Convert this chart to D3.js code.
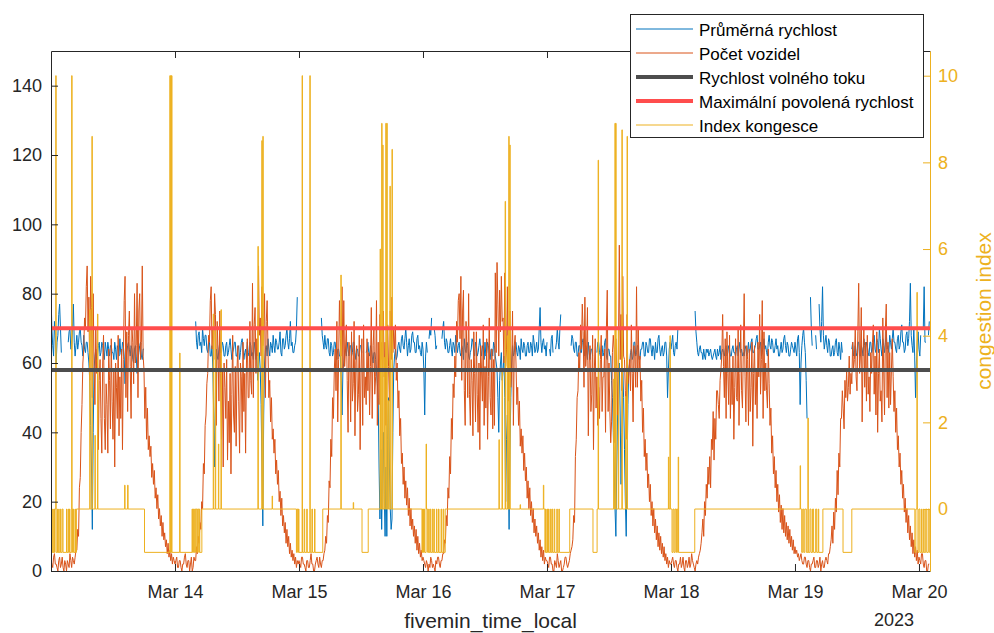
<!DOCTYPE html>
<html>
<head>
<meta charset="utf-8">
<script src="https://cdn.jsdelivr.net/npm/d3@7"></script>
<style>
  body { margin: 0; background: #fff; }
  svg text { font-family: "Liberation Sans", Arial, Helvetica, sans-serif; }
</style>
</head>
<body>
<svg id="chart" width="994" height="633"></svg>
<script>
// ---- data: 10-minute samples, one array per day (6 values per hour) ----
const dayStarts = ["2023-03-13", "2023-03-14", "2023-03-15", "2023-03-16",
                   "2023-03-17", "2023-03-18", "2023-03-19", "2023-03-20"];

// Počet vozidel (vehicle count)
const count13 = [
  3,2,1,4,5,2, 2,1,0,3,4,1, 2,4,1,0,3,2, 0,3,2,1,5,3,
  1,4,3,2,4,6, 6,12,10,24,27,40, 48,60,64,73,70,82, 88,69,79,55,85,76,
  50,80,59,48,70,57, 65,35,55,61,44,34, 60,68,44,35,54,48, 34,64,55,41,67,49,
  38,58,30,60,53,44, 68,39,56,44,64,35, 61,78,85,50,69,46, 68,75,59,44,70,66,
  54,80,60,65,83,50, 75,80,61,66,88,62, 58,44,53,38,47,35, 39,33,36,27,31,25,
  29,21,24,18,22,15, 18,13,16,10,14,9, 11,7,9,5,8,4, 6,3,5,2,4,3];
const count14 = [
  2,3,4,1,1,3, 3,1,0,2,2,4, 5,2,1,3,3,0, 2,4,0,1,4,3,
  3,7,5,10,8,14, 12,20,18,31,28,42, 45,54,57,68,66,78, 82,64,70,61,80,74,
  42,72,63,49,75,57, 38,58,30,60,53,44, 61,32,49,37,57,28, 51,68,45,40,59,36,
  58,65,49,34,60,56, 40,66,46,57,34,60, 67,50,50,72,55,51, 83,50,71,76,57,67,
  62,88,68,73,62,82, 65,71,80,50,72,78, 64,50,55,43,50,38, 41,34,38,28,32,25,
  29,20,23,16,21,13, 16,11,14,8,12,7, 10,5,8,4,6,3, 5,2,4,1,3,2];
const count15 = [
  3,2,1,4,4,2, 2,1,0,3,3,1, 1,3,5,2,2,0, 0,2,3,4,2,1,
  4,2,1,3,3,5, 6,10,8,16,14,26, 24,38,33,50,44,58, 64,52,72,43,61,78,
  67,62,82,58,78,59, 64,71,55,40,66,62, 43,69,49,54,72,39, 60,65,46,51,68,35,
  58,67,42,71,50,56, 48,67,52,63,45,59, 76,44,65,70,51,56, 78,42,66,48,74,61,
  66,58,75,56,66,42, 60,71,59,49,75,61, 79,63,70,64,71,55, 60,47,52,39,44,31,
  34,25,30,21,26,19, 24,16,21,13,18,12, 15,10,13,8,12,6, 10,5,8,4,6,3];
const count16 = [
  4,3,2,1,3,2, 0,2,1,4,3,1, 2,1,0,3,2,4, 4,2,1,3,3,5,
  5,9,8,16,13,24, 21,33,28,44,38,54, 50,62,56,72,66,78, 80,67,85,55,75,81,
  52,42,72,64,50,80, 51,42,61,55,39,69, 57,43,69,51,40,60, 35,65,58,49,71,42,
  59,47,67,38,56,73, 50,45,64,41,61,42, 86,63,89,77,62,81, 69,85,72,73,60,86,
  59,64,82,49,70,75, 53,58,75,42,65,68, 60,48,53,42,49,36, 41,34,39,29,34,26,
  30,21,26,18,24,16, 20,14,18,11,15,10, 13,8,11,6,9,4, 7,3,6,2,4,3];
const count17 = [
  3,2,1,4,4,2, 2,0,0,3,2,1, 5,3,1,2,3,0, 0,1,2,4,4,2,
  1,2,3,5,6,7, 9,16,14,33,38,50, 52,63,58,71,64,77, 69,53,79,59,64,76,
  39,60,65,46,51,68, 35,58,67,47,56,42, 53,44,61,68,46,56, 56,64,40,70,81,46,
  60,46,37,43,63,68, 64,37,67,59,45,65, 94,61,74,52,85,62, 61,52,38,74,54,57,
  61,52,71,57,43,65, 62,53,82,53,70,58, 62,49,55,40,47,33, 38,29,34,24,28,20,
  25,16,20,13,18,11, 15,9,13,7,11,6, 10,5,8,4,7,3, 5,2,4,1,3,2];
const count18 = [
  2,3,4,2,1,3, 3,1,0,2,2,4, 1,2,4,1,0,3, 3,1,2,4,1,2,
  5,3,2,1,0,2, 3,2,4,5,6,8, 11,15,10,20,16,25, 21,30,25,33,24,38,
  35,46,32,44,38,52, 52,48,44,55,58,62, 74,59,50,67,44,69, 57,48,68,44,58,48,
  62,38,53,67,50,49, 70,42,57,71,52,47, 64,80,56,43,65,61, 42,64,46,53,66,36,
  57,65,48,58,44,66, 56,74,51,61,78,44, 69,52,60,52,47,64, 54,42,47,34,39,28,
  33,24,29,20,25,17, 22,14,19,12,18,11, 16,10,14,9,13,8, 12,7,10,6,9,5];
const count19 = [
  7,5,6,4,5,3, 4,5,3,2,2,4, 4,2,1,3,3,1, 0,2,2,3,4,1,
  1,3,3,1,2,4, 0,2,3,1,1,3, 4,3,2,5,5,7, 9,13,8,17,12,21,
  17,29,22,34,30,44, 44,52,47,41,55,50, 58,49,53,62,51,57, 54,66,58,61,70,56,
  52,69,83,57,62,76, 43,62,70,53,66,49, 68,51,56,46,63,57, 66,71,51,62,45,69,
  40,57,64,49,52,43, 73,58,45,70,77,50, 66,47,63,48,58,67, 56,46,52,40,47,35,
  39,30,34,25,29,21, 25,17,21,14,18,11, 16,9,13,7,11,5, 9,4,7,3,6,2];
const count20 = [4,3,2,5,5,2, 1,3,3,0,0,2, 2];

// Průměrná rychlost (average speed, km/h); null = no measurement
const speed13 = [
  80,70,65,62,72,68, 60,66,68,74,77,70, 63,null,null,null,null,null, null,null,66,69,70,64,
  64,70,77,66,62,65, 68,64,66,69,70,66, 65,62,68,64,63,66, 66,63,60,55,42,30,
  12,40,58,62,64,61, 62,65,66,62,63,66, 65,63,61,66,64,62, 66,64,62,65,65,63,
  63,61,66,64,61,65, 64,62,67,63,62,66, 65,62,54,60,63,65, 66,64,62,65,64,61,
  60,64,65,62,57,61, 63,65,66,62,61,64, 64,null,null,null,null,null, null,null,null,null,null,null,
  null,null,null,null,null,null, null,null,null,null,null,null, null,null,null,null,null,null, null,null,null,null,null,null];
const speed14 = [
  null,null,null,null,null,null, null,null,null,null,null,null, null,null,null,null,null,null, null,null,67,null,null,null,
  72,66,64,68,69,65, 66,63,70,67,65,68, 68,64,63,66,66,62, 62,65,58,44,30,52,
  64,62,61,64,66,63, 63,66,65,62,62,65, 66,62,63,65,67,64, 61,63,64,66,66,62,
  62,64,65,61,63,66, 67,64,61,63,64,61, 66,63,62,66,65,62, 63,61,66,64,61,63,
  55,60,63,58,48,30, 13,45,60,64,65,62, 67,64,62,66,65,63, 68,65,63,67,66,64,
  64,66,69,63,62,67, 67,64,65,68,70,66, 64,67,72,65,66,63, 63,65,66,70,79,null];
const speed15 = [
  null,null,null,null,null,null, null,null,null,null,null,null, null,null,null,null,null,null, null,null,null,null,null,null,
  null,null,73,68,66,64, 68,65,64,67,67,63, 62,66,65,62,63,66, 66,63,61,64,64,62,
  62,55,45,58,60,63, 64,62,66,64,62,65, 65,62,63,66,66,63, 61,64,64,62,62,65,
  65,63,null,null,null,null, 63,64,66,63,62,65, 64,62,60,63,63,61, 58,54,50,30,15,35,
  12,28,40,22,10,30, 10,38,50,30,18,12, 15,40,58,62,64,61, 62,65,66,64,63,67,
  68,65,64,67,70,66, 62,65,67,63,64,68, 69,66,66,63,63,67, 68,64,65,63,62,66];
const speed16 = [
  64,58,45,62,66,63, null,67,70,68,73,null, null,70,68,64,65,null, null,null,null,null,67,70,
  72,66,64,67,66,63, 63,65,67,64,62,66, 65,63,68,66,63,65, 66,63,62,65,64,61,
  67,64,63,66,65,62, 61,63,64,67,66,63, 62,66,65,62,63,65, 67,64,62,65,64,61,
  66,62,63,66,65,62, 61,64,64,62,66,65, 62,60,58,50,40,55, 60,63,55,58,62,50,
  20,38,45,30,12,35, 50,60,65,62,63,66, 66,63,62,65,64,61, 67,64,63,66,65,62,
  62,65,66,63,63,66, 65,62,68,66,63,64, 66,63,64,70,76,66, 63,66,67,64,65,62];
const speed17 = [
  66,null,null,64,62,67, 68,63,null,null,64,66, 70,66,64,70,74,null, null,null,null,null,null,null,
  null,null,null,null,65,68, 67,64,63,66,66,62, 62,65,65,63,63,66, 67,64,62,65,64,61,
  66,63,61,64,64,62, null,null,null,null,63,66, 66,63,62,64,65,62, 63,66,67,62,61,64,
  64,62,62,55,50,40, 30,18,10,30,45,58, 60,45,25,40,58,50, 35,20,10,30,48,58,
  60,63,64,61,62,66, 66,62,63,65,65,61, 61,64,64,66,66,62, 62,66,65,63,63,67,
  67,64,62,65,64,61, 66,63,63,67,68,64, 62,64,65,62,63,66, 66,62,50,58,64,66];
const speed18 = [
  64,66,68,63,62,65, 66,64,70,null,null,null, null,null,null,null,null,null, null,null,null,null,null,null,
  null,null,null,null,75,69, 66,63,62,64,65,63, 63,61,64,62,61,64, 63,64,62,63,64,62,
  61,62,63,64,62,61, 64,62,63,65,61,63, 64,63,62,64,65,62, 63,65,64,62,62,64,
  65,63,63,62,64,65, 62,64,66,63,64,62, 63,62,65,64,62,63, 66,63,64,66,67,63,
  63,64,65,67,68,64, 64,65,66,62,63,65, 67,64,65,63,62,66, 68,65,64,67,66,63,
  63,65,67,64,65,62, 62,64,66,63,64,67, 68,65,63,66,65,62, 62,64,66,65,64,63];
const speed19 = [
  66,64,62,67,68,63, 48,60,65,68,70,66, 63,55,44,null,null,null, 79,70,65,null,null,null,
  68,64,null,null,77,70, 66,72,82,68,64,66, 68,65,63,67,66,62, 62,64,65,62,63,66,
  67,63,62,66,64,61, 66,63,null,null,null,null, null,null,null,null,null,null, 64,66,62,63,65,62,
  63,66,66,62,62,65, 64,62,67,65,63,66, 65,63,62,66,66,63, 64,66,68,64,63,67,
  66,63,70,67,64,62, 67,65,63,66,69,64, 65,63,68,66,64,67, 70,66,66,64,63,67,
  68,64,65,69,71,66, 66,63,64,68,69,65, 67,72,83,68,65,63, 70,62,50,60,66,69];
const speed20 = [64,62,68,null,null,70, 82,66,66,null,null,68, 72];

// Index kongesce: [hours since 13 Mar 00:00, value], held until the next entry
const congestionSteps = [
  [0,0],[0.17,-1],[0.33,0],[0.42,-1],[0.58,0],[0.67,-1],[0.75,0],[0.92,10],[1.0,-1],[1.25,0],[1.33,-1],
  [1.5,0],[1.58,-1],[1.83,0],[1.92,-1],[2.17,0],[2.33,-1],[3.0,0],[3.08,-1],[3.33,0],[3.42,-1],[3.58,0],
  [3.67,-1],[4.0,10],[4.08,0],[4.17,-1],[4.33,0],[4.42,-1],[4.67,0],[4.75,-1],[4.92,0],
  [7.5,4.6],[7.58,0],[7.92,8.6],[8.0,0],[8.5,1.7],[8.58,0],[9.0,4.5],[9.08,0],[14.25,0.55],[14.33,0],
  [14.83,0.55],[14.92,0],
  [18.1,-1],[23.0,10],[23.08,-1],[23.17,10],[23.25,-1],[23.33,10],[23.42,-1],[24.9,3.6],[24.98,-1],
  [27.3,0],[27.4,-1],[27.55,0],[27.65,-1],[27.8,0],[28.0,-1],[28.1,0],[28.3,-1],[28.4,0],[28.6,-1],
  [28.7,0],[28.8,-1],[29.2,0],
  [31.4,4.5],[31.48,0],[31.8,4.2],[31.88,0],[32.4,1.5],[32.48,0],[32.9,4.6],[32.98,0],[40.05,6.06],
  [40.13,0],[40.8,8.5],[40.88,0],[41.0,8.6],[41.08,0],[42.8,0.3],[42.88,0],
  [47.5,-1],[47.6,0],[47.75,-1],[47.9,0],[48.0,-1],[48.6,10],[48.68,-1],[49.0,0],[49.1,-1],[49.5,0],
  [49.6,-1],[50.1,10],[50.18,-1],[50.5,0],[50.6,-1],[51.0,0],[51.1,-1],
  [52.6,0],[56.1,5.4],[56.18,0],[58.5,0.15],[58.58,0],[60.2,-1],[61.4,0],[63.7,6.0],[63.78,0],
  [64.0,8.9],[64.08,0],[64.2,8.4],[64.28,0],[64.5,3.5],[64.58,0],[64.8,8.9],[64.88,0],[65.0,8.9],
  [65.08,0],[65.3,2.5],[65.38,0],[65.6,7.45],[65.68,0],[66.0,8.3],[66.08,0],
  [71.8,-1],[71.9,0],[72.0,-1],[72.1,0],[72.3,-1],[72.6,1.5],[72.68,0],[72.9,-1],[73.1,0],[73.2,-1],
  [73.4,0],[73.5,-1],[73.8,0],[73.9,-1],[74.1,0],[74.2,-1],[74.6,0],[74.7,-1],[75.0,0],[75.1,-1],
  [75.5,0],[75.6,-1],[75.9,0],[76.0,-1],[76.3,0],
  [86.7,1.6],[86.78,0],[87.3,3.2],[87.38,0],[87.9,7.1],[87.98,0],[88.3,4.0],[88.38,0],[88.6,8.6],
  [88.68,0],[88.8,8.4],[88.88,0],[90.8,0.1],[90.88,0],[95.3,0.55],[95.38,0],
  [95.6,-1],[95.7,0],[95.8,-1],[96.0,0],[96.1,-1],[96.3,0],[96.4,-1],[96.7,0],[96.8,-1],[97.0,0],
  [97.1,-1],[97.4,0],[97.5,-1],[97.9,0],[98.0,-1],[98.3,0],[98.4,-1],
  [100.4,0],[104.9,-1],[105.7,0],[105.9,8.05],[105.98,0],[108.9,3.0],[108.98,0],[109.15,8.9],
  [109.23,0],[109.3,8.9],[109.38,0],[109.8,4.2],[109.88,0],[110.5,8.75],[110.58,0],[111.2,2.6],
  [111.28,0],[111.5,8.6],[111.58,0],
  [119.5,1.2],[119.58,0],[119.8,4.0],[119.88,0],[120.2,-1],[120.4,0],[120.6,-1],[120.8,0],[121.0,-1],
  [121.1,0],[121.3,-1],[121.4,1.2],[121.48,-1],
  [124.6,0],
  [145.0,1.0],[145.08,0],[145.3,-1],[145.5,0],[145.7,-1],[145.9,0],[146.2,-1],[146.5,2.1],[146.58,-1],
  [146.9,0],[147.1,-1],[147.4,0],[147.6,-1],[148.0,0],[148.2,-1],[148.5,0],[148.6,-1],[149.4,0],
  [153.3,-1],[155.0,0],
  [167.2,-1],[167.4,0],[167.6,5.0],[167.68,0],[167.8,-1],[168.0,0],[168.2,-1],[168.5,0],[168.6,-1],
  [168.9,0],[169.0,-1],[169.3,0],[169.5,-1],[169.8,0],[170.0,-1],[170.13,-1]
];

const freeFlowSpeed = 58;   // Rychlost volného toku
const speedLimit = 70;      // Maximální povolená rychlost

const xTickDates = ["2023-03-14", "2023-03-15", "2023-03-16", "2023-03-17",
                    "2023-03-18", "2023-03-19", "2023-03-20"];
const leftTicks = [0, 20, 40, 60, 80, 100, 120, 140];
const rightTicks = [0, 2, 4, 6, 8, 10];

const legendLabels = ["Průměrná rychlost", "Počet vozidel", "Rychlost volného toku",
                      "Maximální povolená rychlost", "Index kongesce"];

// ---- build time series ----
const parseDay = d3.utcParse("%Y-%m-%d");
const stepMs = 10 * 60 * 1000;
const t0 = parseDay(dayStarts[0]).getTime();

function dailySeries(days) {
  const out = [];
  days.forEach((vals, d) => {
    const start = parseDay(dayStarts[d]).getTime();
    vals.forEach((v, k) => out.push({ t: new Date(start + k * stepMs), v }));
  });
  return out;
}
const countSeries = dailySeries([count13, count14, count15, count16, count17, count18, count19, count20]);
const speedSeries = dailySeries([speed13, speed14, speed15, speed16, speed17, speed18, speed19, speed20]);
const congestionSeries = congestionSteps.map(([h, v]) => ({ t: new Date(t0 + h * 3600000), v }));

// ---- layout ----
const plot = { left: 51, right: 930, top: 51, bottom: 571 };
const svg = d3.select("#chart");

const x = d3.scaleUtc()
  .domain([parseDay("2023-03-13"), new Date(parseDay("2023-03-20").getTime() + 128 * 60000)])
  .range([plot.left, plot.right]);
const yL = d3.scaleLinear().domain([0, 150]).range([plot.bottom, plot.top]);
const yR = d3.scaleLinear().domain([-1.43, 10.57]).range([plot.bottom, plot.top]);

const C = { blue: "#0072BD", orange: "#D95319", yellow: "#EDB120", axis: "#262626",
            free: "#4d4d4d", limit: "#ff4d4d" };

svg.append("defs").append("clipPath").attr("id", "plotClip")
  .append("rect").attr("x", plot.left).attr("y", plot.top)
  .attr("width", plot.right - plot.left).attr("height", plot.bottom - plot.top);

const g = svg.append("g").attr("clip-path", "url(#plotClip)");

const lineL = d3.line().defined(d => d.v != null).x(d => x(d.t)).y(d => yL(d.v));
const lineR = d3.line().x(d => x(d.t)).y(d => yR(d.v)).curve(d3.curveStepAfter);

g.append("path").datum(speedSeries).attr("d", lineL)
  .attr("fill", "none").attr("stroke", C.blue).attr("stroke-width", 1);
g.append("path").datum(countSeries).attr("d", lineL)
  .attr("fill", "none").attr("stroke", C.orange).attr("stroke-width", 1);
g.append("path").datum(congestionSeries).attr("d", lineR)
  .attr("fill", "none").attr("stroke", C.yellow).attr("stroke-width", 1);

// constant reference lines
[[freeFlowSpeed, C.free], [speedLimit, C.limit]].forEach(([v, col]) => {
  g.append("line").attr("x1", plot.left).attr("x2", plot.right)
    .attr("y1", yL(v)).attr("y2", yL(v))
    .attr("stroke", col).attr("stroke-width", 4);
});

// ---- axes ----
const tickDates = xTickDates.map(parseDay);
function styleAxis(sel, color, size) {
  sel.selectAll("path.domain").attr("stroke", color).attr("stroke-width", 1);
  sel.selectAll(".tick line").attr("stroke", color).attr("stroke-width", 1);
  sel.selectAll(".tick text").attr("fill", color).attr("font-size", size)
    .attr("font-family", "Liberation Sans, Arial, Helvetica, sans-serif");
  sel.attr("font-family", null).attr("font-size", null);
}

const xAxis = svg.append("g").attr("transform", `translate(0,${plot.bottom})`)
  .call(d3.axisBottom(x).tickValues(tickDates).tickFormat(d3.utcFormat("%b %d"))
    .tickSizeInner(-7).tickSizeOuter(0).tickPadding(14));
styleAxis(xAxis, C.axis, 18);

const topAxis = svg.append("g").attr("transform", `translate(0,${plot.top})`)
  .call(d3.axisTop(x).tickValues(tickDates).tickFormat("").tickSizeInner(-7).tickSizeOuter(0));
styleAxis(topAxis, C.axis, 18);

const leftAxis = svg.append("g").attr("transform", `translate(${plot.left},0)`)
  .call(d3.axisLeft(yL).tickValues(leftTicks).tickSizeInner(-7).tickSizeOuter(0).tickPadding(9));
styleAxis(leftAxis, C.axis, 18);

const rightAxis = svg.append("g").attr("transform", `translate(${plot.right},0)`)
  .call(d3.axisRight(yR).tickValues(rightTicks).tickSizeInner(-7).tickSizeOuter(0).tickPadding(8));
styleAxis(rightAxis, C.yellow, 18);

// axis labels
svg.append("text").attr("x", (plot.left + plot.right) / 2).attr("y", 628)
  .attr("text-anchor", "middle").attr("font-size", 21).attr("fill", C.axis)
  .text("fivemin_time_local");
svg.append("text").attr("x", 914).attr("y", 626)
  .attr("text-anchor", "end").attr("font-size", 18).attr("fill", C.axis)
  .text("2023");
svg.append("text")
  .attr("transform", `translate(983,${(plot.top + plot.bottom) / 2}) rotate(-90)`)
  .attr("text-anchor", "middle").attr("dominant-baseline", "central")
  .attr("font-size", 21).attr("fill", C.yellow)
  .text("congestion index");

// ---- legend ----
const legendStyles = [
  { color: C.blue, width: 1 }, { color: C.orange, width: 1 }, { color: C.free, width: 4 },
  { color: C.limit, width: 4 }, { color: C.yellow, width: 1 }
];
const lg = svg.append("g");
lg.append("rect").attr("x", 630.5).attr("y", 14.5).attr("width", 293).attr("height", 123)
  .attr("fill", "#fff").attr("stroke", C.axis).attr("stroke-width", 1);
legendLabels.forEach((label, i) => {
  const yy = 29 + i * 24;
  lg.append("line").attr("x1", 636).attr("x2", 693).attr("y1", yy).attr("y2", yy)
    .attr("stroke", legendStyles[i].color).attr("stroke-width", legendStyles[i].width);
  lg.append("text").attr("x", 699).attr("y", yy + 1).attr("dominant-baseline", "central")
    .attr("font-size", 17).attr("fill", "#000").text(label);
});
</script>
</body>
</html>
